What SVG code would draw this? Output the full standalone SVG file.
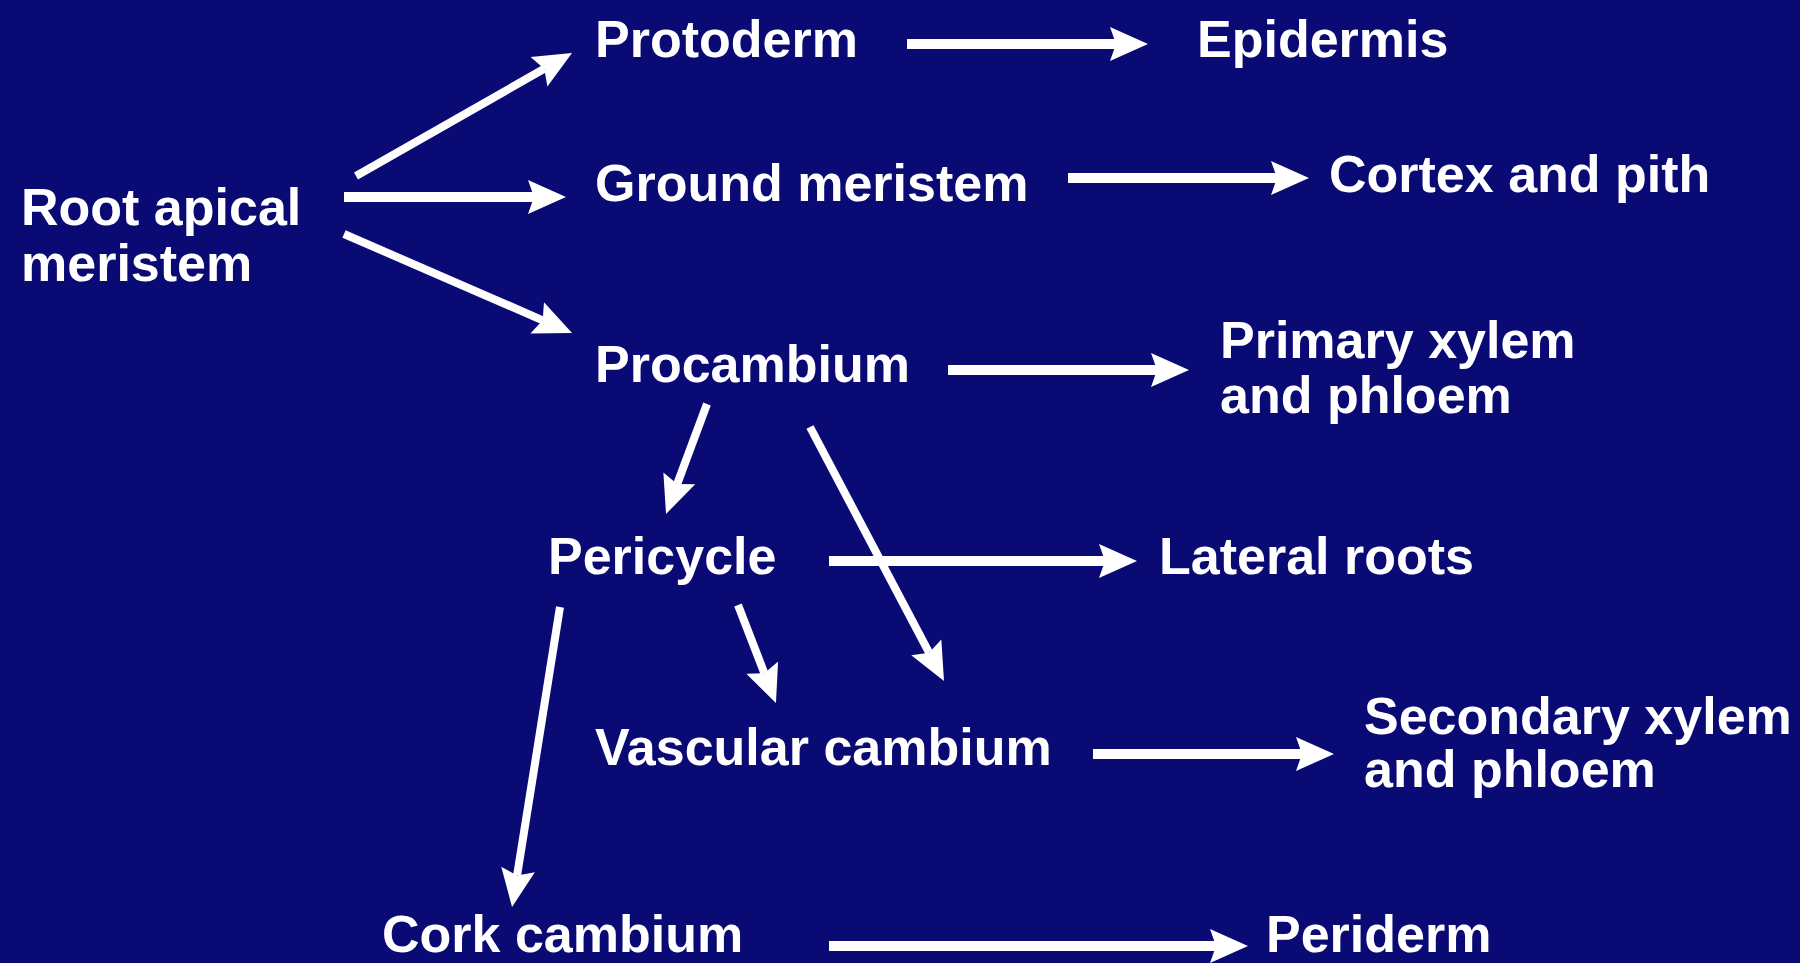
<svg xmlns="http://www.w3.org/2000/svg" width="1800" height="963" viewBox="0 0 1800 963">
<style>
text{font-family:"Liberation Sans",Arial,sans-serif;font-weight:bold;font-size:52px;fill:#ffffff}
.c line{stroke:#ffffff;stroke-width:8;fill:none;marker-end:url(#ah)}
.c line.h{stroke-width:10}
</style>
<defs>
<marker id="ah" markerUnits="userSpaceOnUse" viewBox="0 -18 38 36" refX="6" refY="0" markerWidth="38" markerHeight="36" orient="auto">
<path d="M0,-17 L38,0 L0,17 L6,0 z" fill="#ffffff"/>
</marker>
</defs>
<rect x="0" y="0" width="1800" height="963" fill="#0a0a75"/>
<g id="root"><text x="21" y="225">Root apical</text><text x="21" y="281">meristem</text></g>
<g id="protoderm"><text x="595" y="57">Protoderm</text></g>
<g id="epidermis"><text x="1197" y="57">Epidermis</text></g>
<g id="ground"><text x="595" y="201">Ground meristem</text></g>
<g id="cortex"><text x="1329" y="192">Cortex and pith</text></g>
<g id="procambium"><text x="595" y="382">Procambium</text></g>
<g id="primary"><text x="1220" y="358">Primary xylem</text><text x="1220" y="413">and phloem</text></g>
<g id="pericycle"><text x="548" y="574">Pericycle</text></g>
<g id="lateral"><text x="1159" y="574">Lateral roots</text></g>
<g id="vascular"><text x="595" y="765">Vascular cambium</text></g>
<g id="secondary"><text x="1364" y="734">Secondary xylem</text><text x="1364" y="787">and phloem</text></g>
<g id="cork"><text x="382" y="952">Cork cambium</text></g>
<g id="periderm"><text x="1266" y="952">Periderm</text></g>
<g class="c" id="connectors">
<line x1="356" y1="176" x2="544.2" y2="68.8"/>
<line class="h" x1="344" y1="197" x2="534" y2="197"/>
<line x1="344" y1="234" x2="542.7" y2="320.3"/>
<line class="h" x1="907" y1="44" x2="1116" y2="44"/>
<line class="h" x1="1068" y1="178" x2="1277" y2="178"/>
<line class="h" x1="948" y1="370" x2="1157" y2="370"/>
<line x1="707" y1="404" x2="677.2" y2="484"/>
<line x1="810" y1="427" x2="929.1" y2="652.7"/>
<line class="h" x1="829" y1="561" x2="1105" y2="561"/>
<line x1="738" y1="605" x2="764.4" y2="673.2"/>
<line x1="560" y1="607" x2="517.1" y2="875.4"/>
<line class="h" x1="1093" y1="754" x2="1302" y2="754"/>
<line class="h" x1="829" y1="946" x2="1216" y2="946"/>
</g>
</svg>
